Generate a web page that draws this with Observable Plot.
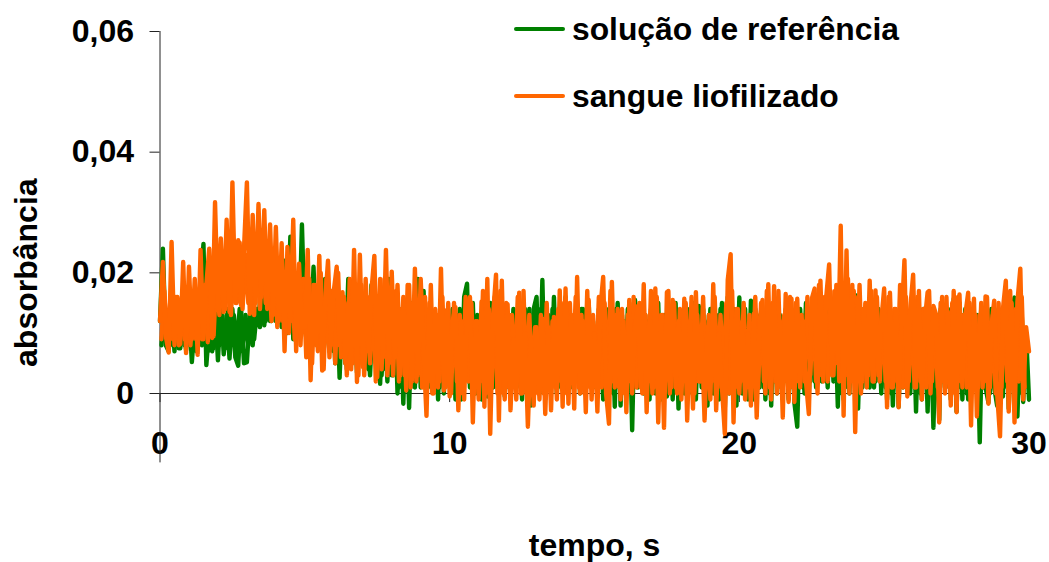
<!DOCTYPE html>
<html><head><meta charset="utf-8">
<script src="https://cdn.jsdelivr.net/npm/d3@7"></script>
<script src="https://cdn.jsdelivr.net/npm/@observablehq/plot@0.6"></script>
<style>
html,body{margin:0;padding:0;background:#fff;}
#wrap{position:relative;width:1049px;height:562px;overflow:hidden;font-family:"Liberation Sans",Arial,sans-serif;}
.leg{position:absolute;left:514px;display:flex;align-items:center;font-weight:700;font-size:31.8px;line-height:36px;color:#000;white-space:nowrap;}
.leg i{display:block;width:51px;height:4px;border-radius:2px;margin-right:7px;}
</style></head><body>
<div id="wrap"></div>
<script>
// absorbance x 1000, samples every 0.1 s
const solucaoReferencia = [
12,24,8,7,14,7,15,7.5,13,7.2,
14,5.2,12,9,17,24.8,4.7,11,7,15,
5.5,15,6.5,13,5.8,14,6,4.6,14,5,
5.2,13,8,14,11.6,19,11.3,17,12,19,
12,19,11,22,10,26,9,19,10,28,
11,20,9,21,8,18,8,19,9,17,
7,18,2.6,15,5,19,6,14,3.5,17,
5,16,4,18,6,15,1.6,17,4,19,
3,16,0,13,-1.7,14,-2.4,15,1,19,
1,17,0,14,2,13,-1,15,0,12,
1,14,-1,13,-1,16,18.2,1,15,0,
12,-1,14,-0.5,15,1,13,0,15,-0.5,
13,0.5,14,1,15,-1,14,3,-2,14,
16,0,18.8,-1,13,1,16,0,12,2,
16,0,12,2,13,0,14,1,15,2,
11,3,12,-1,14,1,13,-2.2,15,-2,
12,0,15,-6.1,15.5,1,13,0,12,-1,
14,0,15,-1,13,-0.5,12,-1,15,-2.5,
13,0,14,1,15,-1,14.5,1,12,-2,
14,0,13,-1,15,-2.3,16,1,14,-2,
15.9,0,14,-1,15.4,-1,13,1,14,-1,
15,-2,14,0,13,1,14,-1,14,-1.5,
-5.5,14,1,15,0,13,2,14,3,14,
2,15,4,14,-2.2,15,-1,14,0,16,
16.3,-2.5,14,3,12,1,13,2,14,0,
13,-1,14,-2,12,-2.2,15,2,12,0,
14,-3,13,-1,13.5,-3,14,-5.7,13,-4.4,
15,1,14,-1,15.7,-3,15,-1,14,-1,
12,1,13,-8.1,14,1,-1.5,14,1,-2,
13,-0.5,14,-2.5,13,15.9,-3.8,12,-1.4,10.1,
-1];
// samples in between (0.05 s later)
const solucaoReferenciaMeio = [
8,14,8,13,8,14,7.5,13,8,14,
8,13,7,14,8,14,7,13,7.5,14,
8,13,7.5,14,8,13,7.5,14,7,13,
8,13,9,14,11,15,12,16,12,16,
12,17,11,16,11,17,10,16,10,17,
9,17,9,16,8,16,7,15,7,16,
5,15,6,14,4,15,6,14,5,14,
4,14,3,13,5,14,3,13,2,14,
3,13,1,14,1,13,1,14,2,13,
2,13,1,13,2,12,1,14,2,13,
1,13,2,14,1,12,2,14,1,13,
2,12,1,13,2,14,1,12,2,13,
1,13,2,14,1,13,2,14,0,13,
1,14,2,13,1,14,2,13,1,12,
2,13,1,12,2,14,1,13,2,12,
1,14,2,13,1,12,0,14,1,13,
2,14,1,13,2,12,1,13,2,14,
1,13,2,12,1,14,2,13,1,12,
2,14,0,13,1,12,2,14,1,13,
1,12,2,14,1,13,0,12,2,14,
1,13,2,12,1,14,2,13,1,12,
0,13,2,14,1,12,2,13,1,14,
1,13,0,12,2,14,1,13,2,14,
1,13,2,14,0,13,1,14,2,13,
2,14,1,12,2,13,1,14,2,13,
1,12,0,13,2,14,1,13,2,12,
1,13,0,14,2,12,0,13,1,14,
2,13,1,12,2,14,1,13,0,12,
1,13,0,14,1,12,0,13,2,14,
0,13,1,12,2,14,0,13,1];
const sangueLiofilizado = [
12,21.8,9.5,6.8,25.1,8,16,8.2,21.8,6.7,
21,9,19,6.4,23.8,9,18,24,9.2,31.7,
14,25.7,13.5,28.8,13.5,35,15,25.4,14.6,24,
35,13.2,29.6,15,31.4,16,30.4,14,28,13,
27.6,12,24.9,7,24.3,12,28.8,7,21.5,11,
11,23.8,2.2,18,8,22.8,3.8,15,22,8,
17,21,8,16.8,5,15,4,23.8,1.9,23,
4.4,19,7,17,22.8,2.7,19,6,23.8,5,
20.2,6,18,3,16,0.5,18,2,20.7,3,
19,7,-3.7,15,0,14,1,20.7,0.5,13.8,
-0.5,12,14.3,-2.8,12,-1,14,16,-4.8,12,
-1,15.2,-2.2,19,-6.7,13,19.7,-4.5,18.7,-1,
14.8,-2.8,9,-1,16.7,0,10,-5.5,9,-2,
11,-1,12.4,-3.4,11,-2.8,12.7,-1,17.1,-2.2,
17.4,-1.7,13,-2.5,19.3,0,12,-3.1,15.5,-1,
10,-3,14,19.3,0,-5,18.5,1,14,-1,
12,-3.1,15.5,0,11,14.5,1,18.1,-3.1,13,
0,17.4,-4.8,13,-5.7,16.8,0,15.5,1,12,
-1,15.7,-4.5,12,-2.5,16.8,2,10,-4.5,11,
-1,18.1,-2.8,10,1,-6.7,18.8,23.1,-4.8,14,
0,11.9,-1,10,-2,13.2,-4,12,15.5,0,
18.1,-1,17.8,0,12,-4,16.5,-1.4,15.7,-1.4,
15.7,1,12,2,-3.4,15.7,17.4,0,18.7,2,
16,21.4,3,17,5,27.8,-3.7,23.7,0,18,
-6.4,16,0,14,1,18.7,2,17.1,3,12,
17.4,-2.3,16.7,1,14,-2.3,12,22.1,-0.5,14,
19.7,1,17,-1,12,16.8,0,14.5,13,-4.8,
16,0,13.5,-2,17,-3.1,16.4,1,13,16.7,
-5.3,15.7,-3.8,13,1,16.1,-1.7,11,15.4,0,
-7.1,14,18.7,-3,15,-4.8,15.2,20.7,-1,11,
7];
const sangueLiofilizadoMeio = [
9,17,8.5,15,9,16,8,14,9,16,
8,15,9,17,9,18,8.5,19,9.5,20,
13,22,14,24,13,23,15,25,14,23,
15,24,13,25,14,23,15,22,12,23,
11,22,12,20,10,21,9,20,8,19,
6,19,5,18,7,20,4,19,6,17,
5,20,6,16,3,19,5,15,3,18,
3,16,5,18,2,15,4,19,3,14,
3,17,2,14,3,18,1,15,2,13,
1,16,2,18,0,13,2,16,1,15,
0,15,2,13,0,16,2,15,0,12,
2,17,0,14,1,16,0,17,0,15,
1,13,2,16,0,17,0,13,2,11,
0,13,0,15,2,12,1,14,2,15,
0,15,2,16,1,13,0,17,1,13,
2,16,1,15,0,17,2,13,1,14,
0,13,2,16,1,15,0,13,2,17,
1,16,0,13,2,17,1,15,0,14,
2,15,1,16,0,13,2,16,1,13,
2,16,1,13,2,15,0,17,1,14,
2,15,1,13,2,16,1,15,2,17,
1,15,2,17,1,13,2,16,1,15,
2,13,2,16,3,15,2,18,3,16,
2,17,3,18,2,16,3,19,2,17,
3,18,2,15,3,17,2,16,2,14,
2,16,1,14,2,18,1,16,2,15,
1,16,2,14,1,17,2,13,1,15,
2,16,1,15,0,16,2,13,1,15,
2,13,1,15,2,16,1,13,0,15,
1,15,2,17,1,14,2,16,1];
const xTicks = [0, 10, 20, 30];
const yTicks = [0, 0.02, 0.04, 0.06];
const seriesNames = ["solução de referência", "sangue liofilizado"];
const seriesColors = ["#008000", "#FF6600"];
const xLabel = "tempo, s", yLabel = "absorbância";

const toRows = (a, t0 = 0) => a.map((v, i) => ({t: t0 + i / 10, a: v / 1000}));
const comma = d => d === 0 ? "0" : d3.format(".2f")(d).replace(".", ",");
const FS = 32;
const lineStyle = {x: "t", y: "a", strokeWidth: 4.4, strokeLinejoin: "round", strokeLinecap: "round"};

const chart = Plot.plot({
  width: 1049, height: 562,
  marginLeft: 159.5, marginRight: 20.5, marginTop: 31, marginBottom: 96.6,
  style: {background: "#fff", fontFamily: '"Liberation Sans",Arial,sans-serif', fontWeight: 700, color: "#000"},
  x: {domain: [0, 30], ticks: xTicks},
  y: {domain: [-0.012, 0.06]},
  marks: [
    Plot.axisY({ticks: yTicks, tickFormat: comma, tickSize: 10, tickPadding: 16, fontSize: FS, label: null, stroke: "#222"}),
    Plot.axisX({ticks: xTicks, tickFormat: d => d, tickSize: 0, tickPadding: -35, fontSize: FS, label: null}),
    Plot.ruleX([0], {y1: -0.0115, y2: 0.06, stroke: "#222", strokeWidth: 1}),
    Plot.ruleY([0], {stroke: "#222", strokeWidth: 1}),
    Plot.ruleX(xTicks, {x: d => d, y1: 0, y2: -0.0015, stroke: "#222", strokeWidth: 1}),
    Plot.line(toRows(solucaoReferenciaMeio, 0.05), {...lineStyle, stroke: seriesColors[0]}),
    Plot.line(toRows(solucaoReferencia), {...lineStyle, stroke: seriesColors[0]}),
    Plot.line(toRows(sangueLiofilizadoMeio, 0.05), {...lineStyle, stroke: seriesColors[1]}),
    Plot.line(toRows(sangueLiofilizado), {...lineStyle, stroke: seriesColors[1]}),
    Plot.text([xLabel], {frameAnchor: "bottom", dy: 90, fontSize: FS, text: d => d}),
    Plot.text([yLabel], {frameAnchor: "left", textAnchor: "middle", lineAnchor: "middle", rotate: -90, dx: -133, dy: 24, fontSize: FS, text: d => d})
  ]
});
const wrap = document.getElementById("wrap");
wrap.appendChild(chart);
seriesNames.forEach((n, i) => {
  const d = document.createElement("div");
  d.className = "leg";
  d.style.top = (11 + i * 67) + "px";
  d.innerHTML = `<i style="background:${seriesColors[i]}"></i><span>${n}</span>`;
  wrap.appendChild(d);
});
</script></body></html>
